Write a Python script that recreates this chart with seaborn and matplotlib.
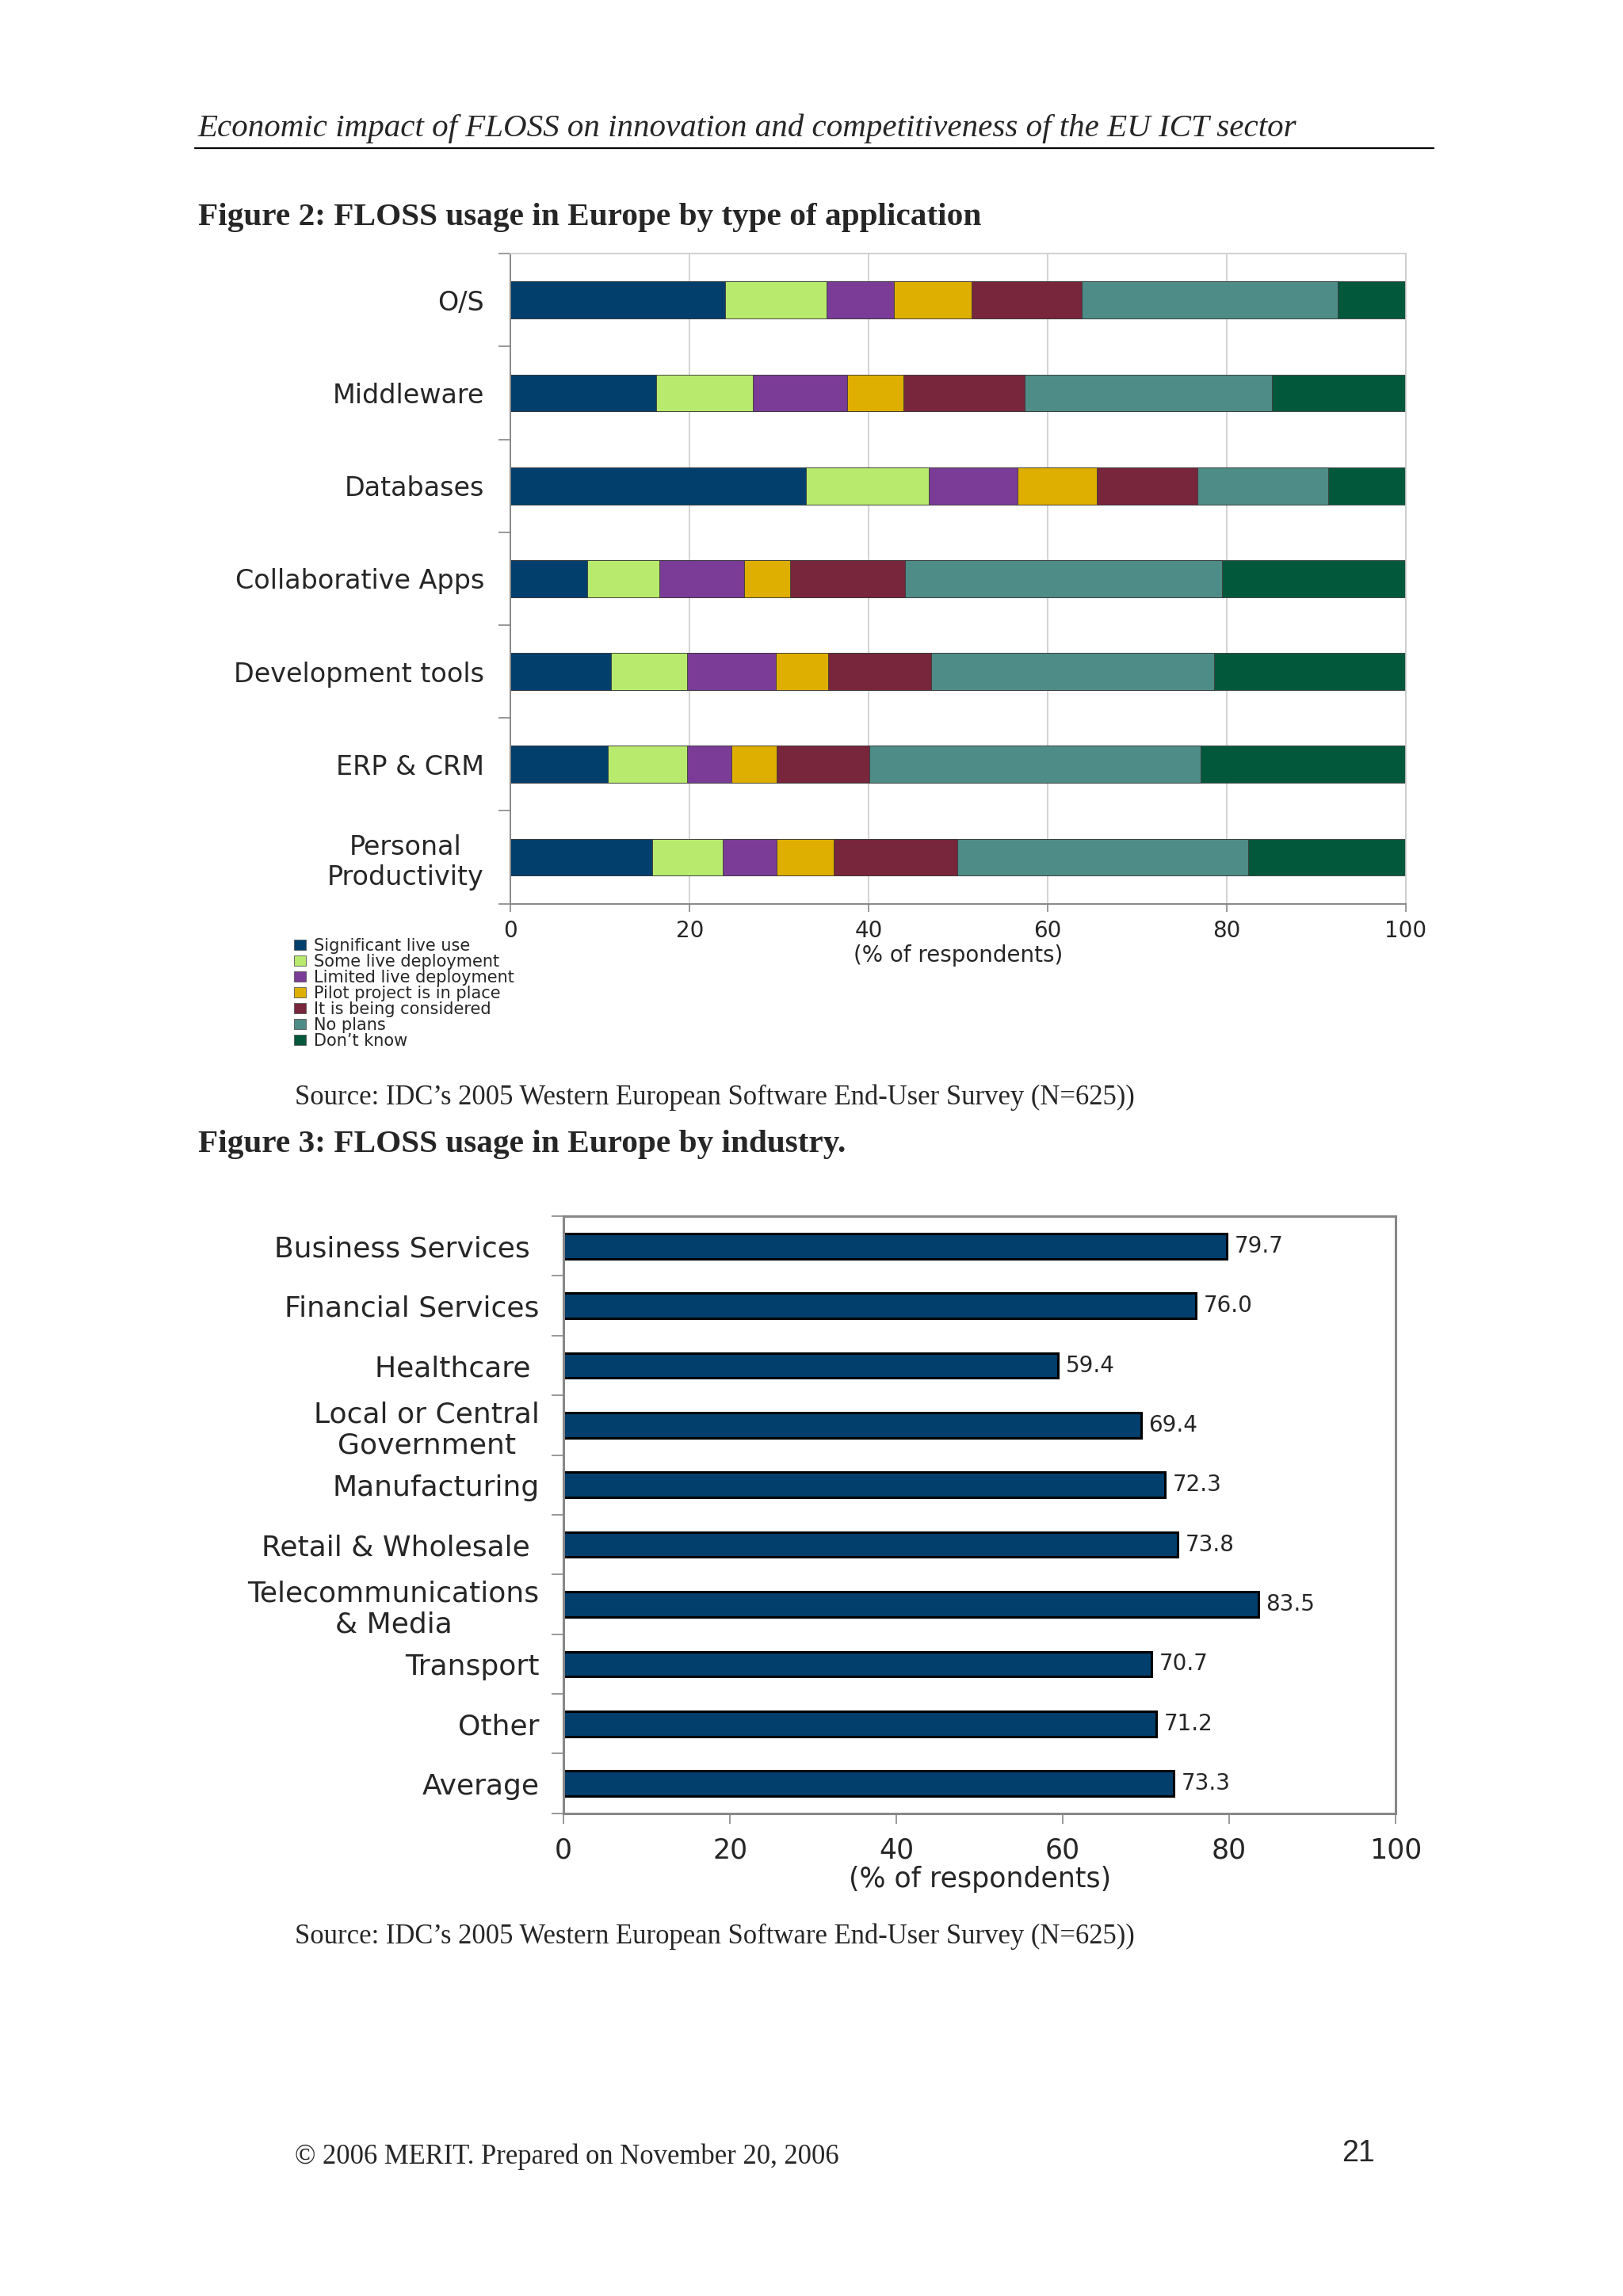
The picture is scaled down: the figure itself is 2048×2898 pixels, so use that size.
import numpy as np
import matplotlib
matplotlib.use("Agg")
import matplotlib.pyplot as plt
from matplotlib.lines import Line2D
from matplotlib.patches import Patch
import seaborn as sns

# data
apps = ["O/S", "Middleware", "Databases", "Collaborative Apps",
        "Development tools", "ERP & CRM", "Personal\nProductivity"]
status_names = ["Significant live use", "Some live deployment",
                "Limited live deployment", "Pilot project is in place",
                "It is being considered", "No plans", "Don\u2019t know"]
significant = [24.0, 16.3, 33.0, 8.6, 11.2, 10.9, 15.8]
some_live = [11.3, 10.8, 13.7, 8.0, 8.5, 8.8, 7.9]
limited = [7.5, 10.5, 9.9, 9.5, 9.9, 5.0, 6.0]
pilot = [8.7, 6.3, 8.9, 5.1, 5.9, 5.0, 6.4]
considered = [12.3, 13.5, 11.2, 12.9, 11.5, 10.4, 13.8]
no_plans = [28.6, 27.6, 14.6, 35.4, 31.6, 37.0, 32.5]
dont_know = [7.6, 15.0, 8.7, 20.5, 21.4, 22.9, 17.6]
status_colors = ["#023f6d", "#b8ea6e", "#7a3c96", "#deaf00",
                 "#78263c", "#4e8c87", "#02583a"]

industries = ["Business Services ", "Financial Services", "Healthcare ",
              "Local or Central\nGovernment", "Manufacturing",
              "Retail & Wholesale ", "Telecommunications\n& Media",
              "Transport", "Other", "Average"]
industry_pct = [79.7, 76.0, 59.4, 69.4, 72.3, 73.8, 83.5, 70.7, 71.2, 73.3]

sns.set_theme(style="white")
plt.rcParams["font.family"] = ["DejaVu Sans"]

fig = plt.figure(figsize=(20.48, 28.98), dpi=100)
fig.patch.set_facecolor("white")

serif = ["Liberation Serif", "DejaVu Serif"]

# page header
fig.text(0.122, 0.9440, "Economic impact of FLOSS on innovation and competitiveness of the EU ICT sector",
         family=serif, style="italic", fontsize=29.5, va="center", ha="left")
fig.add_artist(Line2D([0.1203, 0.8834], [0.9355, 0.9355], transform=fig.transFigure,
                      color="black", lw=1.6))
fig.text(0.122, 0.9054, "Figure 2: FLOSS usage in Europe by type of application",
         family=serif, weight="bold", fontsize=29.7, va="center", ha="left")

# ---- Figure 2: stacked bars ----
ax1 = fig.add_axes([0.3146, 0.6064, 0.5516, 0.2831])
series = [significant, some_live, limited, pilot, considered, no_plans, dont_know]
cum = np.cumsum(np.array(series), axis=0)
for i in reversed(range(len(series))):
    sns.barplot(x=cum[i], y=apps, orient="h", color=status_colors[i], saturation=1,
                width=0.4, edgecolor="#3a3a3a", linewidth=0.6, ax=ax1)

ax1.set_xlim(0, 100)
ax1.set_xticks(range(0, 101, 20))
ax1.xaxis.grid(True, color="#cccccc", lw=1.2)
ax1.set_axisbelow(True)
ax1.set_yticks(np.arange(-0.5, len(apps), 1), minor=True)
ax1.tick_params(axis="both", which="both", left=True, bottom=True, color="#888888")
ax1.tick_params(axis="y", which="major", length=0, pad=24, labelsize=24)
ax1.tick_params(axis="y", which="minor", length=11, width=1.2)
ax1.tick_params(axis="x", which="major", length=7, width=1.2, pad=8, labelsize=20)
for lbl in ax1.get_yticklabels():
    lbl.set_multialignment("center")
for s in ["top", "right"]:
    ax1.spines[s].set_color("#cccccc")
for s in ["left", "bottom"]:
    ax1.spines[s].set_color("#888888")
    ax1.spines[s].set_linewidth(1.4)
ax1.set_ylabel("")
ax1.set_xlabel("(% of respondents)", fontsize=20, labelpad=2)

handles = [Patch(facecolor=c, edgecolor="#555555", linewidth=0.6) for c in status_colors]
fig.legend(handles, status_names, loc="upper left", bbox_to_anchor=(0.181, 0.5915),
           frameon=False, fontsize=15, labelspacing=0.0, handlelength=0.75,
           handleheight=0.6, handletextpad=0.45, borderpad=0, borderaxespad=0)

fig.text(0.1817, 0.5220, "Source: IDC\u2019s 2005 Western European Software End-User Survey (N=625))",
         family=serif, fontsize=24.9, va="center", ha="left")
fig.text(0.122, 0.5016, "Figure 3: FLOSS usage in Europe by industry.",
         family=serif, weight="bold", fontsize=29.7, va="center", ha="left")

# ---- Figure 3: single bars ----
ax2 = fig.add_axes([0.3472, 0.2102, 0.5127, 0.2601])
sns.barplot(x=industry_pct, y=industries, orient="h", color="#023f6d", saturation=1,
            width=0.42, edgecolor="black", linewidth=2.2, ax=ax2)
ax2.bar_label(ax2.containers[0], fmt="%.1f", padding=7, fontsize=20)
ax2.set_xlim(0, 100)
ax2.set_xticks(range(0, 101, 20))
ax2.set_yticks(np.arange(-0.5, len(industries), 1), minor=True)
ax2.tick_params(axis="both", which="both", left=True, bottom=True, color="#888888")
ax2.tick_params(axis="y", which="major", length=0, pad=22, labelsize=26)
ax2.tick_params(axis="y", which="minor", length=11, width=1.2)
ax2.tick_params(axis="x", which="major", length=9, width=1.2, pad=12, labelsize=25)
for lbl in ax2.get_yticklabels():
    lbl.set_multialignment("center")
for s in ax2.spines.values():
    s.set_visible(True)
    s.set_color("#888888")
    s.set_linewidth(2.2)
ax2.set_ylabel("")
ax2.set_xlabel("(% of respondents)", fontsize=25, labelpad=2)

fig.text(0.1817, 0.1565, "Source: IDC\u2019s 2005 Western European Software End-User Survey (N=625))",
         family=serif, fontsize=24.9, va="center", ha="left")

# footer
fig.text(0.1817, 0.0607, "\u00a9 2006 MERIT. Prepared on November 20, 2006",
         family=serif, fontsize=24.9, va="center", ha="left")
fig.text(0.847, 0.0620, "21", family=["Liberation Sans", "DejaVu Sans"], fontsize=27,
         va="center", ha="right")

fig.savefig("out.png", dpi=100, facecolor="white")
